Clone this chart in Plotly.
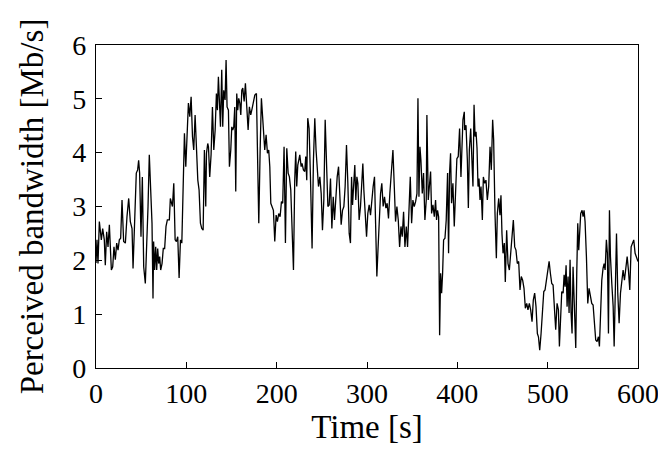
import plotly.graph_objects as go

time_s = [
    0.0, 1.1, 2.2, 3.7, 5.9, 7.4, 9.2, 10.3, 11.8, 13.3, 14.8, 15.9, 17.0, 18.5, 19.9, 21.4, 22.9, 24.4, 25.8, 27.3,
    28.8, 30.6, 32.5, 34.3, 36.2, 38.0, 39.9, 41.0, 42.4, 43.5, 44.6, 46.1, 47.2, 48.3, 49.8, 51.3, 52.8, 54.6, 56.1, 57.6,
    59.0, 60.5, 62.0, 63.1, 63.8, 64.9, 66.1, 67.2, 68.3, 69.4, 70.5, 71.6, 73.1, 74.5, 76.0, 77.5, 79.0, 80.1, 81.2, 82.3,
    84.1,
    84.6, 86.1, 87.6, 89.0, 90.5, 92.0, 93.5, 95.0, 96.4, 97.9, 99.4, 100.9, 102.3, 103.8, 105.3, 106.8, 108.2, 109.7,
    111.2, 112.7, 114.1, 115.6, 117.1, 118.6, 120.0, 121.5, 122.3, 123.7, 124.5, 125.9, 127.4, 128.9, 130.4, 131.9,
    133.3, 134.4, 135.5, 136.6, 137.8, 139.2, 140.3, 141.4, 142.9, 144.0, 145.1, 146.6, 147.7, 149.2, 150.3, 151.4,
    152.5, 153.6, 154.7, 155.8, 156.9, 158.0, 159.2, 160.3, 161.4, 162.5, 164.0,
    165.4, 166.9, 168.4, 169.8, 171.3, 172.8, 174.3, 175.8, 177.6, 178.7, 180.2, 181.7, 183.1, 184.2, 185.3, 186.8,
    188.3, 189.8, 191.2, 192.4, 193.5, 194.9, 196.4, 197.9, 199.4, 200.8, 202.3, 203.8, 205.3, 206.7, 208.2, 209.7,
    211.2, 212.7, 214.1, 215.6, 217.1, 218.6, 220.0, 221.1, 222.2, 223.4, 224.5, 225.6, 227.1, 228.1, 229.6, 231.1,
    232.2, 233.3, 234.4, 235.9, 237.4, 239.2, 240.7, 242.2, 243.6, 245.1,
    246.3, 247.8, 249.3, 250.7, 252.2, 253.7, 255.2, 256.7, 258.1, 259.6, 261.1, 262.6, 264.0, 265.5, 267.0, 268.5,
    269.9, 271.4, 272.9, 274.4, 275.8, 277.3, 278.8, 280.3, 281.7, 282.9, 284.0, 285.4, 286.5, 287.6, 288.8, 289.9,
    291.3, 292.8, 294.3, 295.4, 296.5, 298.0, 299.5, 300.9, 302.4, 303.9, 305.4, 306.8, 308.3, 309.8, 310.9, 312.0,
    313.5, 315.0, 316.4, 317.9, 319.4, 320.9, 322.3, 323.8, 325.3, 326.8,
    327.2, 328.7, 330.2, 331.6, 333.1, 334.6, 336.1, 337.6, 339.0, 340.5, 342.0, 343.5, 344.9, 346.4, 347.9, 349.4,
    350.8, 352.3, 353.8, 355.3, 356.4, 357.5, 358.6, 359.7, 361.2, 362.6, 364.1, 365.6, 366.3, 367.8, 369.3, 370.4,
    371.5, 373.0, 374.5, 375.9, 377.0, 378.1, 379.3, 380.4, 381.5, 382.6, 383.7, 384.8, 386.3, 387.7, 389.2, 390.3,
    391.4, 392.5, 393.6, 395.1, 396.6, 398.1, 399.5, 401.0, 402.5, 404.0, 405.1, 406.2, 407.7,
    408.1, 409.6, 411.1, 412.2, 413.3, 414.8, 415.9, 417.3, 418.5, 419.6, 420.7, 421.8, 422.9, 424.0, 425.1, 426.2,
    427.7, 428.8, 430.3, 431.7, 433.2, 434.7, 436.2, 437.6, 439.1, 440.2, 441.7, 443.2, 444.3, 445.8, 447.2, 448.3,
    449.4, 450.6, 452.0, 453.1, 454.6, 456.1, 457.6, 459.0, 460.5, 462.0, 463.5, 464.9, 466.4, 467.9, 469.4, 470.8,
    472.3, 473.8, 475.3, 476.8, 478.2, 479.7, 481.2, 482.7, 484.1, 485.6, 487.1, 488.6,
    489.8, 491.2, 492.7, 494.2, 495.7, 497.1, 498.6, 500.1, 501.6, 503.0, 504.5, 506.0, 507.5, 508.9, 510.4, 511.9,
    513.0, 514.1, 515.6, 517.1, 518.2, 519.3, 520.4, 521.5, 522.6, 523.7, 524.8, 525.9, 527.0, 528.1, 529.6, 531.1,
    532.2, 533.3, 534.4, 535.5, 536.6, 538.1, 539.2, 540.3, 541.4, 542.9, 544.4, 545.8, 547.3, 548.8, 550.3, 551.7,
    553.2, 554.7, 556.2, 557.3, 558.4, 559.9, 561.3, 562.5, 563.6, 565.0, 566.1, 567.3, 568.4, 569.5,
    571.0, 572.5, 573.6, 574.7, 576.2, 577.6, 579.1, 580.6, 582.1, 583.5, 585.0, 586.5, 588.0, 589.4, 590.9, 592.4,
    593.9, 595.3, 596.8, 597.9, 600.0,
]

bandwidth_mbps = [
    1.95, 2.38, 1.94, 2.72, 2.38, 2.59, 2.38, 1.91, 2.53, 2.25, 2.66, 2.13, 1.82, 1.88, 2.25, 2.01, 2.32, 2.19, 2.38, 2.41,
    3.12, 2.35, 2.32, 2.81, 3.15, 2.72, 2.59, 1.85, 2.72, 3.06, 3.62, 3.68, 3.86, 3.62, 2.44, 3.55, 1.88, 1.57, 2.25, 3.00,
    3.96, 3.12, 2.69, 1.29, 2.35, 1.82, 2.25, 1.82, 2.22, 1.94, 2.07, 1.82, 1.94, 2.22, 2.22, 2.63, 2.75, 2.75, 2.75, 3.15,
    3.06,
    3.00, 3.43, 2.38, 2.35, 2.44, 1.67, 2.38, 2.32, 3.43, 4.36, 3.74, 4.42, 4.92, 4.67, 5.04, 4.30, 4.05, 4.70,
    4.11, 3.49, 3.31, 2.69, 2.59, 2.56, 4.05, 3.00, 3.99, 4.17, 4.11, 3.55, 3.96, 4.85, 4.05, 4.42,
    5.10, 4.79, 5.41, 5.04, 4.48, 5.54, 4.48, 5.16, 4.98, 5.72, 4.85, 4.79, 3.74, 4.05, 4.48, 4.42,
    4.48, 4.85, 3.28, 5.10, 4.79, 5.01, 4.92, 4.70, 5.16, 5.20, 4.95,
    5.29, 4.85, 4.42, 4.85, 4.70, 4.82, 4.98, 5.07, 5.10, 4.24, 2.69, 4.05, 5.01, 4.73, 4.42, 4.05,
    4.33, 3.99, 4.05, 3.74, 3.06, 3.00, 2.93, 2.35, 2.84, 2.72, 2.87, 2.81, 3.09, 3.06, 4.11, 2.32,
    4.08, 3.62, 3.55, 3.31, 2.53, 1.82, 3.49, 4.02, 3.37, 3.77, 3.86, 3.96, 3.74, 3.80, 3.68, 3.65,
    3.93, 3.49, 4.64, 4.45, 3.55, 2.22, 3.86, 4.64, 4.05, 3.65,
    3.37, 3.55, 3.24, 2.56, 3.12, 4.61, 3.93, 3.00, 3.03, 3.52, 2.59, 3.18, 2.75, 3.18, 3.55, 3.74,
    3.31, 2.66, 2.93, 3.00, 3.37, 4.14, 3.43, 2.50, 2.32, 3.55, 3.03, 3.62, 3.77, 3.12, 3.55, 3.43,
    2.75, 3.00, 3.49, 3.80, 3.31, 2.75, 2.44, 2.87, 3.03, 2.84, 3.18, 3.37, 3.55, 2.13, 1.70, 2.13,
    2.81, 3.24, 3.43, 3.00, 3.18, 2.97, 3.06, 2.78, 3.24, 3.55,
    3.62, 4.05, 3.37, 2.72, 3.00, 2.75, 2.25, 2.63, 2.44, 2.90, 2.25, 2.63, 2.25, 2.87, 3.55, 2.69,
    3.12, 3.00, 3.09, 3.24, 5.01, 3.18, 4.11, 3.86, 3.24, 3.62, 2.75, 3.12, 4.70, 3.12, 3.43, 3.65,
    2.87, 3.03, 2.81, 3.12, 2.75, 2.93, 2.81, 0.61, 1.76, 1.39, 1.76, 2.38, 2.41, 2.75, 3.62, 2.13,
    3.62, 3.99, 3.06, 3.43, 2.63, 3.18, 3.89, 3.93, 4.45, 3.55, 4.30, 4.61, 4.76,
    4.42, 4.51, 3.86, 2.97, 4.05, 4.45, 3.99, 3.37, 4.89, 4.30, 4.39, 4.08, 3.37, 3.52, 3.12, 3.37,
    2.75, 3.55, 3.43, 3.49, 3.12, 3.37, 4.11, 3.68, 4.61, 4.24, 2.87, 2.04, 2.87, 3.15, 2.84, 3.21,
    2.50, 2.13, 2.32, 1.60, 2.56, 1.94, 1.82, 2.07, 2.38, 2.75, 2.25, 2.19, 1.94, 1.98, 1.45, 1.70,
    1.63, 1.48, 1.11, 1.20, 1.08, 1.20, 1.08, 0.86, 1.26, 1.39, 1.14, 0.64,
    0.58, 0.33, 0.64, 1.02, 1.42, 1.45, 1.63, 1.76, 1.98, 1.76, 1.57, 1.54, 1.02, 0.71, 1.20, 1.08,
    0.40, 0.95, 1.42, 1.39, 1.73, 1.51, 1.91, 1.14, 1.70, 1.02, 2.01, 1.02, 0.64, 1.88, 1.20, 0.37,
    1.76, 2.69, 2.19, 2.63, 2.87, 2.93, 2.81, 2.93, 2.72, 2.07, 1.20, 1.48, 1.33, 1.20, 1.17, 0.77,
    0.52, 0.49, 0.58, 0.40, 1.14, 1.63, 1.85, 1.94, 1.82, 2.38, 2.13, 0.64, 2.93, 2.07,
    1.57, 1.14, 0.40, 1.63, 2.50, 1.39, 0.83, 1.39, 1.70, 1.82, 1.63, 1.88, 2.07, 1.82, 1.45, 2.25,
    2.32, 2.38, 2.13, 2.07, 1.98,
]

x_ticks = [0, 100, 200, 300, 400, 500, 600]
y_ticks = [0, 1, 2, 3, 4, 5, 6]

FONT = "Liberation Serif"

fig = go.Figure(
    go.Scatter(
        x=time_s,
        y=bandwidth_mbps,
        mode="lines",
        line=dict(color="black", width=1.3),
        hoverinfo="skip",
    )
)

axis_common = dict(
    showgrid=False,
    zeroline=False,
    showline=True,
    linecolor="black",
    linewidth=1.3,
    mirror=True,
    ticks="inside",
    ticklen=6,
    tickwidth=1,
    tickcolor="black",
    automargin=False,
    tickfont=dict(family=FONT, size=28, color="black"),
)

fig.update_layout(
    width=666,
    height=456,
    paper_bgcolor="white",
    plot_bgcolor="white",
    showlegend=False,
    margin=dict(l=88, r=36, t=37, b=96),
    xaxis=dict(
        range=[0, 600],
        tickvals=x_ticks,
        title=dict(text="Time [s]", font=dict(family=FONT, size=33, color="black"), standoff=4),
        **axis_common,
    ),
    yaxis=dict(
        range=[0, 6],
        tickvals=y_ticks,
        ticklabelstandoff=3,
        title=dict(text="Perceived bandwidth [Mb/s]", font=dict(family=FONT, size=33, color="black"), standoff=18),
        **axis_common,
    ),
)

fig.write_html("out.html")
